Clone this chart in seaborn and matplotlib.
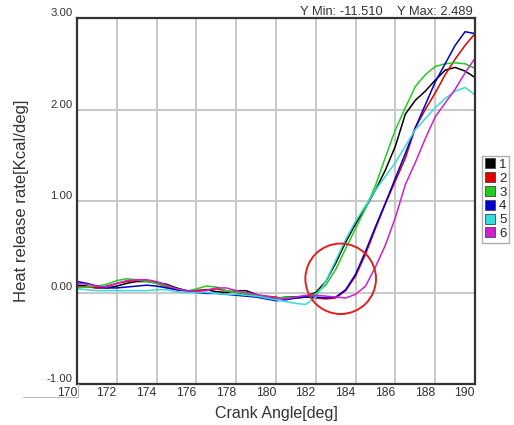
"""Heat release rate vs crank angle, six cylinders."""

import matplotlib

matplotlib.use("Agg")

import matplotlib.pyplot as plt
import pandas as pd
import seaborn as sns
from matplotlib.lines import Line2D
from matplotlib.patches import Ellipse

# crank angle [deg]
crank_angle = [
    170.0, 170.5, 171.0, 171.5, 172.0, 172.5, 173.0, 173.5, 174.0, 174.5,
    175.0, 175.5, 176.0, 176.5, 177.0, 177.5, 178.0, 178.5, 179.0, 179.5,
    180.0, 180.5, 181.0, 181.5, 182.0, 182.5, 183.0, 183.5, 184.0, 184.5,
    185.0, 185.5, 186.0, 186.5, 187.0, 187.5, 188.0, 188.5, 189.0, 189.5,
    190.0,
]

# heat release rate [Kcal/deg] per cylinder
cyl_1 = [
    0.08, 0.07, 0.05, 0.05, 0.07, 0.10, 0.12, 0.12, 0.11, 0.09,
    0.05, 0.02, 0.02, 0.03, 0.01, 0.00, 0.02, 0.02, -0.02, -0.06,
    -0.07, -0.05, -0.05, -0.04, 0.00, 0.12, 0.32, 0.55, 0.75, 0.93,
    1.12, 1.34, 1.60, 1.95, 2.10, 2.20, 2.32, 2.43, 2.46, 2.42,
    2.35,
]
cyl_2 = [
    0.06, 0.06, 0.05, 0.07, 0.10, 0.12, 0.13, 0.13, 0.10, 0.06,
    0.03, 0.02, 0.02, 0.03, 0.04, 0.02, 0.00, -0.02, -0.03, -0.04,
    -0.05, -0.07, -0.06, -0.05, -0.06, -0.07, -0.06, 0.02, 0.18, 0.42,
    0.70, 0.97, 1.22, 1.47, 1.80, 2.00, 2.18, 2.38, 2.55, 2.70,
    2.83,
]
cyl_3 = [
    0.05, 0.06, 0.07, 0.09, 0.13, 0.15, 0.14, 0.12, 0.10, 0.07,
    0.04, 0.01, 0.04, 0.07, 0.06, 0.02, 0.00, -0.01, -0.03, -0.05,
    -0.06, -0.05, -0.06, -0.05, -0.01, 0.08, 0.25, 0.48, 0.70, 0.92,
    1.17, 1.48, 1.78, 2.02, 2.25, 2.38, 2.47, 2.50, 2.51, 2.50,
    2.45,
]
cyl_4 = [
    0.12, 0.10, 0.07, 0.05, 0.05, 0.06, 0.07, 0.08, 0.07, 0.05,
    0.03, 0.02, 0.00, -0.01, -0.01, -0.02, -0.03, -0.04, -0.05, -0.07,
    -0.09, -0.08, -0.06, -0.05, -0.05, -0.06, -0.05, 0.03, 0.20, 0.45,
    0.72, 0.98, 1.25, 1.52, 1.80, 2.05, 2.30, 2.50, 2.70, 2.85,
    2.83,
]
cyl_5 = [
    0.04, 0.03, 0.02, 0.02, 0.02, 0.02, 0.02, 0.02, 0.03, 0.03,
    0.01, 0.00, 0.00, 0.00, -0.01, -0.02, -0.02, -0.03, -0.04, -0.06,
    -0.08, -0.10, -0.12, -0.13, -0.05, 0.12, 0.35, 0.58, 0.78, 0.95,
    1.12, 1.27, 1.42, 1.60, 1.78, 1.90, 2.02, 2.12, 2.20, 2.24,
    2.16,
]
cyl_6 = [
    0.10, 0.09, 0.07, 0.06, 0.10, 0.13, 0.14, 0.14, 0.12, 0.08,
    0.04, 0.02, 0.01, 0.02, 0.05, 0.05, 0.02, 0.00, -0.02, -0.04,
    -0.06, -0.07, -0.05, -0.03, -0.03, -0.04, -0.05, -0.06, -0.02, 0.07,
    0.28, 0.52, 0.82, 1.18, 1.42, 1.68, 1.92, 2.07, 2.22, 2.40,
    2.56,
]

cylinders = ["1", "2", "3", "4", "5", "6"]
colors = ["#000000", "#e00000", "#22cc22", "#0000cc", "#33dddd", "#cc22cc"]

x_ticks = [170, 172, 174, 176, 178, 180, 182, 184, 186, 188, 190]
y_ticks = [-1.0, 0.0, 1.0, 2.0, 3.0]


def main() -> None:
    sns.set_theme(style="white")
    plt.rcParams["font.family"] = ["Liberation Sans", "DejaVu Sans"]

    series = [cyl_1, cyl_2, cyl_3, cyl_4, cyl_5, cyl_6]
    df = pd.concat(
        [
            pd.DataFrame({"angle": crank_angle, "hrr": vals, "cyl": name})
            for name, vals in zip(cylinders, series)
        ],
        ignore_index=True,
    )

    fig = plt.figure(figsize=(5.14, 4.25), dpi=100)
    ax = fig.add_axes([77 / 514, 1 - 384 / 425, 398 / 514, 366 / 425])

    # grid first so curves sit on top
    for xv in x_ticks[1:-1]:
        ax.axvline(xv, color="#c8c8c8", lw=1.4, zorder=0)
    for yv in y_ticks[1:-1]:
        ax.axhline(yv, color="#c8c8c8", lw=1.4, zorder=0)

    sns.lineplot(
        data=df,
        x="angle",
        y="hrr",
        hue="cyl",
        palette=colors,
        linewidth=1.1,
        legend=False,
        ax=ax,
    )

    # red circle marking ignition start
    ax.add_patch(
        Ellipse((183.25, 0.15), 3.55, 0.77, fill=False, edgecolor="#e02020", lw=1.4, zorder=5)
    )

    ax.set_xlim(170, 190)
    ax.set_ylim(-1, 3)
    ax.set_xticks(x_ticks)
    ax.set_yticks(y_ticks)
    ax.set_yticklabels([f"{v:.2f}" for v in y_ticks], fontsize=8.2, va="bottom")
    ax.set_xticklabels([str(v) for v in x_ticks], fontsize=8.8, ha="right")
    ax.tick_params(axis="both", length=0, colors="#333333")
    ax.tick_params(axis="y", pad=3)
    ax.tick_params(axis="x", pad=2)

    for spine in ax.spines.values():
        spine.set_color("#333333")
        spine.set_linewidth(1.6)

    ax.set_xlabel("Crank Angle[deg]", fontsize=11.5, color="#333333", labelpad=5)
    ax.set_ylabel("Heat release rate[Kcal/deg]", fontsize=12, color="#333333", labelpad=13)

    fig.text(473 / 514, 1 - 12 / 425, "Y Min: -11.510    Y Max: 2.489",
             ha="right", va="center", fontsize=9.3, color="#333333")

    # small box under the first x label
    fig.add_artist(Line2D([23 / 514, 78 / 514], [1 - 397 / 425, 1 - 397 / 425],
                          color="#bbbbbb", lw=0.8))
    fig.add_artist(Line2D([78 / 514, 78 / 514], [1 - 384 / 425, 1 - 397 / 425],
                          color="#bbbbbb", lw=0.8))

    handles = [
        Line2D([], [], marker="s", linestyle="none", markersize=7,
               markerfacecolor=c, markeredgecolor="#444444", markeredgewidth=0.6)
        for c in colors
    ]
    fig.legend(
        handles,
        cylinders,
        loc="upper left",
        bbox_to_anchor=(482 / 514, 1 - 156 / 425),
        frameon=True,
        fancybox=False,
        edgecolor="#999999",
        fontsize=9.5,
        handlelength=0.8,
        handletextpad=0.3,
        borderpad=0.2,
        labelspacing=0.12,
        borderaxespad=0,
    )

    fig.savefig("out.png", dpi=100)


if __name__ == "__main__":
    main()
